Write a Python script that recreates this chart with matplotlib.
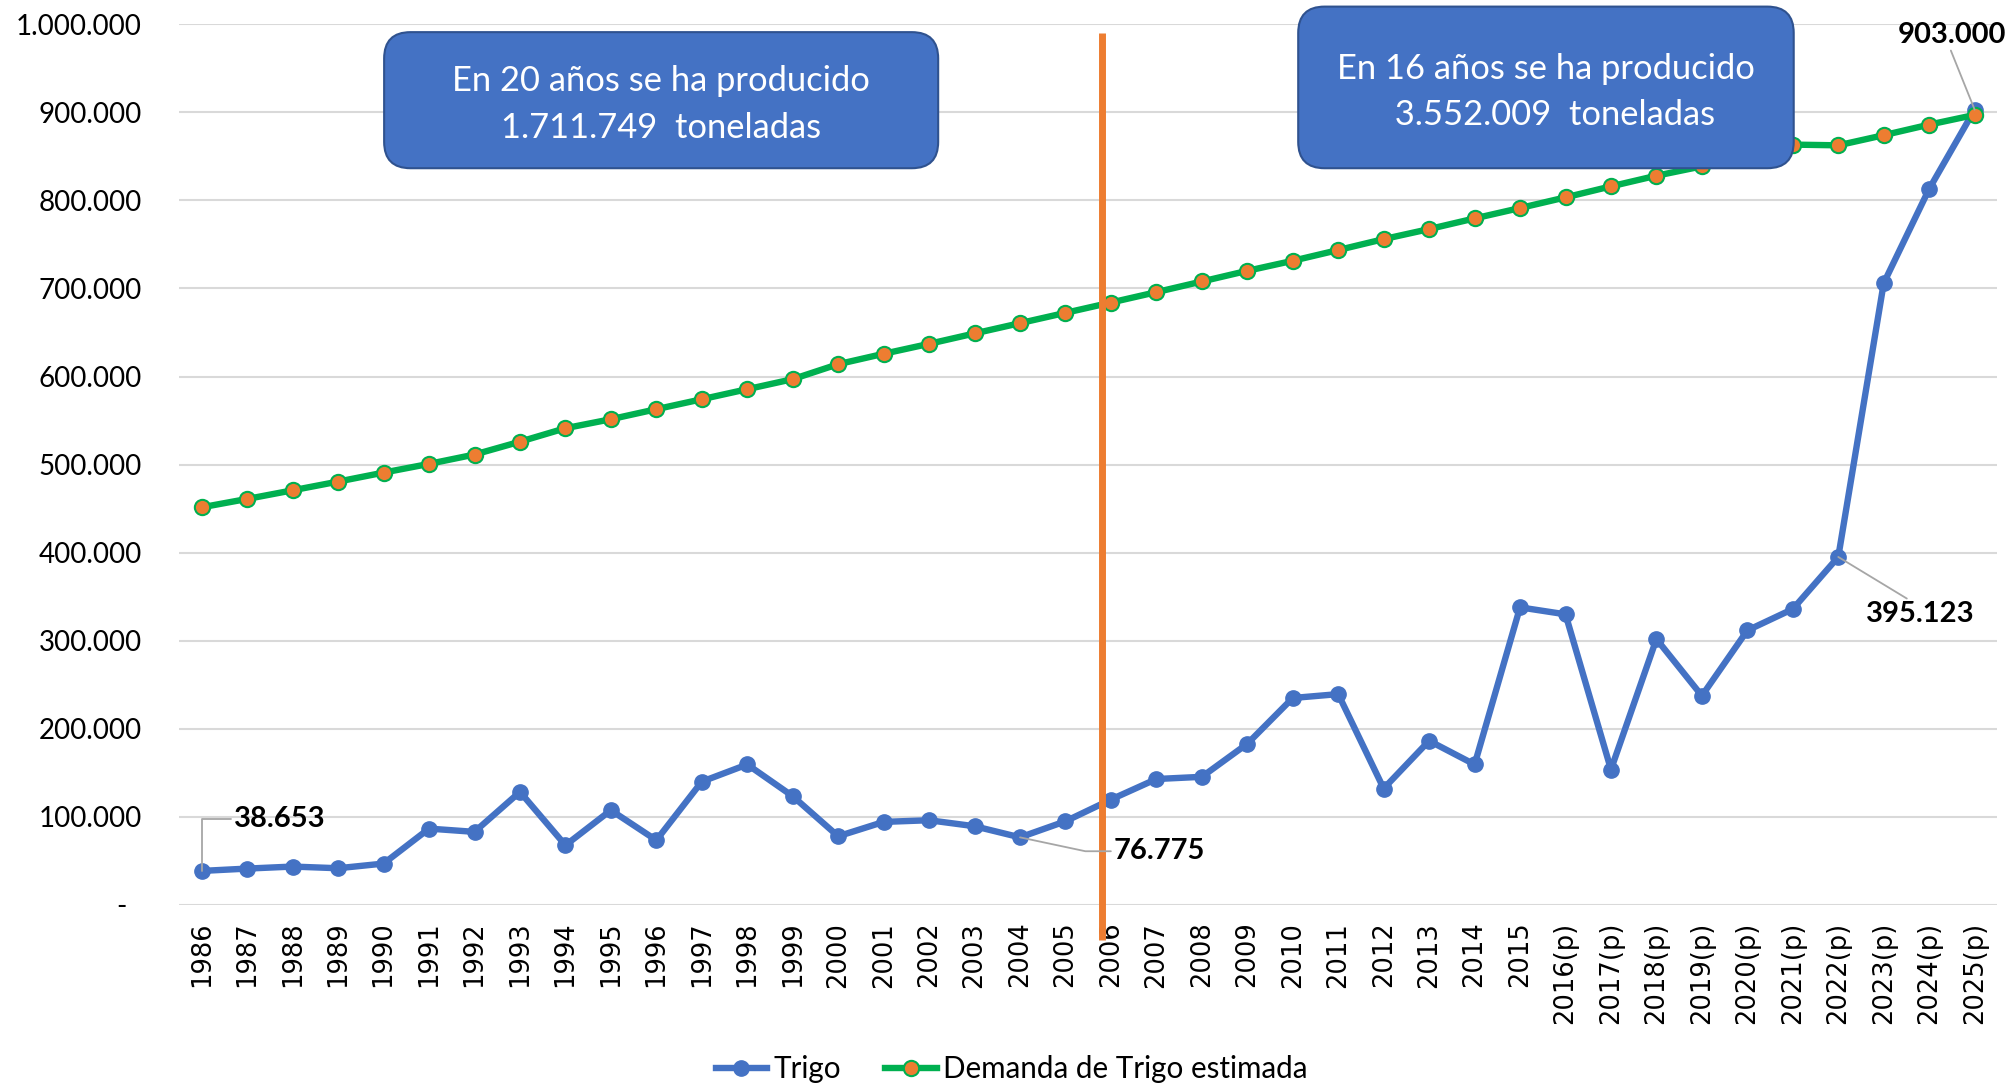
import matplotlib
matplotlib.use("Agg")
import matplotlib.pyplot as plt
from matplotlib.patches import FancyBboxPatch
from matplotlib.ticker import FuncFormatter

anios = ["1986", "1987", "1988", "1989", "1990", "1991", "1992", "1993", "1994", "1995",
         "1996", "1997", "1998", "1999", "2000", "2001", "2002", "2003", "2004", "2005",
         "2006", "2007", "2008", "2009", "2010", "2011", "2012", "2013", "2014", "2015",
         "2016(p)", "2017(p)", "2018(p)", "2019(p)", "2020(p)", "2021(p)", "2022(p)",
         "2023(p)", "2024(p)", "2025(p)"]

trigo = [38653, 41300, 43600, 41700, 47000, 86700, 83000, 128400, 67800, 107600,
         73500, 140000, 159500, 123500, 78000, 94300, 96200, 89400, 76775, 95000,
         119700, 143000, 145500, 183000, 235000, 239400, 132200, 186400, 159500, 337900,
         330000, 153800, 301900, 237500, 311700, 336000, 395123, 706000, 813000, 903000]

demanda = [451500, 461000, 470800, 480700, 490900, 500800, 511400, 526000, 541300, 551500,
           562900, 574200, 585600, 597000, 614000, 625800, 637100, 648900, 660600, 672300,
           684000, 695800, 707900, 720000, 731400, 743600, 756000, 767400, 779500, 791300,
           803400, 815900, 828000, 838600, 851000, 863300, 862500, 874000, 886000, 897000]

# indices of the labelled Trigo points
etiquetas = [0, 18, 36, 39]

textos_caja = ["En 20 años se ha producido\n1.711.749  toneladas",
               "En 16 años se ha producido\n  3.552.009  toneladas"]

AZUL = "#4472C4"
VERDE = "#00B050"
NARANJA = "#ED7D31"
FUENTE = "Lato"


def miles(v, pos):
    if v == 0:
        return "-  "
    return f"{v:,.0f}".replace(",", ".")


fig = plt.figure(figsize=(20.07, 10.86), dpi=100)
ax = fig.add_axes([0.0892, 0.1667, 0.906, 0.811])

x = list(range(len(anios)))
ax.plot(x, trigo, color=AZUL, lw=4.6, marker="o", ms=11, label="Trigo", zorder=3)
ax.plot(x, demanda, color=VERDE, lw=4.6, marker="o", ms=11, mfc=NARANJA, mec=VERDE,
        mew=1.5, label="Demanda de Trigo estimada", zorder=4)

ax.set_xlim(-0.5, len(anios) - 0.5)
ax.set_ylim(0, 1_000_000)
ax.set_yticks(range(0, 1_000_001, 100_000))
ax.yaxis.set_major_formatter(FuncFormatter(miles))
ax.grid(axis="y", color="#D9D9D9", lw=1.5)
ax.set_axisbelow(True)
for s in ax.spines.values():
    s.set_visible(False)
ax.tick_params(axis="y", length=0, pad=27, labelsize=20)
for lbl in ax.get_yticklabels():
    lbl.set_family(FUENTE)
ax.set_xticks(x)
ax.set_xticklabels(anios, rotation=90, fontsize=18.5, family="DejaVu Sans")
ax.tick_params(axis="x", length=0, pad=12)

# separator between the two periods
ax.vlines(19.8, -40000, 990000, color=NARANJA, lw=5, clip_on=False, zorder=5)

# rounded text boxes (axes coords)
aspecto = 1818 / 881
cajas = [(0.1128, 0.8365, 0.3047, 0.1545), (0.6155, 0.8365, 0.2725, 0.1835)]
for (x0, y0, w, h), txt in zip(cajas, textos_caja):
    caja = FancyBboxPatch((x0, y0), w, h, boxstyle="round,pad=0,rounding_size=0.0145",
                          transform=ax.transAxes, mutation_aspect=aspecto,
                          fc=AZUL, ec="#2F528F", lw=1.5, clip_on=False, zorder=6)
    ax.add_patch(caja)
    ax.text(x0 + w / 2, y0 + h / 2 - 0.005, txt, transform=ax.transAxes, ha="center",
            va="center", color="white", fontsize=24.8, family=FUENTE, linespacing=1.55,
            zorder=7)

# data labels with leader lines
posiciones = [(0.7, 97400, "left", "center", (0, 0.5), "angle,angleA=0,angleB=90,rad=0"),
              (20.06, 61000, "left", "center", (0, 0.5), "angle,angleA=0,angleB=-12,rad=0"),
              (37.8, 330000, "center", "center", (0.42, 1), "arc3"),
              (38.5, 988000, "center", "center", (0.48, 0), "arc3")]
for i, (tx, ty, ha, va, rel, con) in zip(etiquetas, posiciones):
    ax.annotate(f"{trigo[i]:,.0f}".replace(",", "."), xy=(i, trigo[i]), xytext=(tx, ty),
                ha=ha, va=va, fontsize=21, fontweight="bold", family=FUENTE, zorder=8,
                annotation_clip=False,
                arrowprops=dict(arrowstyle="-", color="#A6A6A6", lw=1.3, shrinkA=0,
                                shrinkB=0, relpos=rel, connectionstyle=con))

fig.legend(loc="center", bbox_to_anchor=(0.504, 0.0157), ncol=2, frameon=False,
           prop={"family": FUENTE, "size": 21.3}, handlelength=1.75, handletextpad=0.2,
           columnspacing=1.5)

fig.savefig("out.png", dpi=100)
